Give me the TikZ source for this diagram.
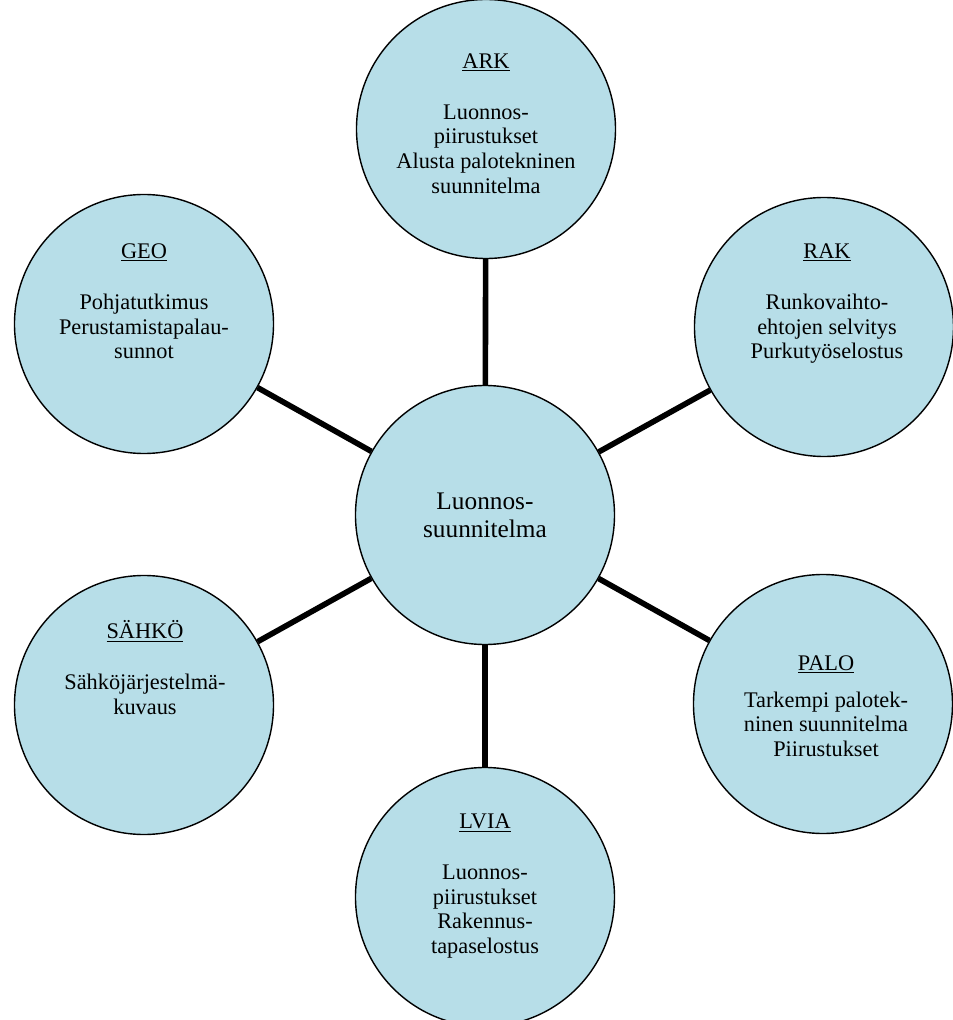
\documentclass[tikz,border=0pt]{standalone}
\usepackage{fontspec}
\setmainfont{Liberation Serif}
\usepackage{tikz}
\usetikzlibrary{positioning}

\definecolor{bubble}{HTML}{B7DEE8}

\begin{document}
\begin{tikzpicture}[
  hub/.style={circle, draw=black, fill=bubble, line width=0.8pt, minimum size=5.18cm, inner sep=0pt},
  txt/.style={align=center, anchor=north, inner sep=0pt, font=\fontsize{12.7}{14.2}\selectfont},
  link/.style={line width=3.2pt}
]
\useasboundingbox (-9.70,10.30) rectangle (9.34,-10.10);

\node[hub, align=center, font=\fontsize{14.4}{16}\selectfont] (main) at (0,0) {Luonnos-\\suunnitelma};
\node[hub] (ark)   at (0.02,7.72)   {};
\node[hub] (rak)   at (6.78,3.76)   {};
\node[hub] (geo)   at (-6.82,3.82)  {};
\node[hub] (palo)  at (6.76,-3.78)  {};
\node[hub] (sahko) at (-6.82,-3.80) {};
\node[hub] (lvia)  at (0,-7.64)     {};

\draw[link] (main)--(ark); \draw[link] (main)--(rak); \draw[link] (main)--(palo);
\draw[link] (main)--(lvia); \draw[link] (main)--(sahko); \draw[link] (main)--(geo);

\node[txt] (arkt)   at (0.02,9.24)  {\underline{ARK}\\[14.8pt]Luonnos-\\piirustukset\\Alusta palotekninen\\suunnitelma};
\node[txt] (rakt)   at (6.84,5.44)  {\underline{RAK}\\[14.8pt]Runkovaihto-\\ehtojen selvitys\\Purkutyöselostus};
\node[txt] (geot)   at (-6.82,5.44) {\underline{GEO}\\[14.8pt]Pohjatutkimus\\Perustamistapalau-\\sunnot};
\node[txt] (palot)  at (6.82,-2.80) {\underline{PALO}\\[6.8pt]Tarkempi palotek-\\ninen suunnitelma\\Piirustukset};
\node[txt] (sahkot) at (-6.80,-2.10) {\underline{SÄHKÖ}\\[14.8pt]Sähköjärjestelmä-\\kuvaus};
\node[txt] (lviat)  at (0,-5.96)    {\underline{LVIA}\\[14.8pt]Luonnos-\\piirustukset\\Rakennus-\\tapaselostus};
\end{tikzpicture}
\end{document}
